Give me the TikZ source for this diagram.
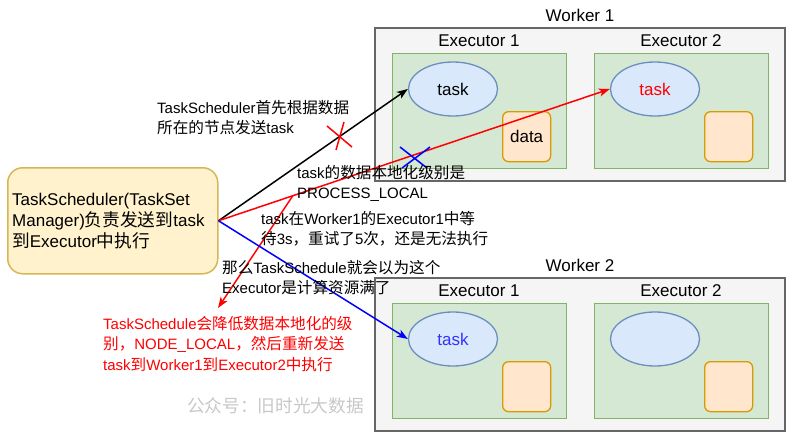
\documentclass[tikz,border=0pt]{standalone}
\usepackage{fontspec}
\setmainfont{Liberation Sans}
\newfontfamily\cjk[Scale=1.04]{Noto Sans CJK SC}
\newcommand\zhs[1]{{\cjk #1}}
\usetikzlibrary{arrows.meta,shapes.geometric}
\definecolor{wfill}{HTML}{F5F5F5}
\definecolor{wline}{HTML}{666666}
\definecolor{gfill}{HTML}{D5E8D4}
\definecolor{gline}{HTML}{82B366}
\definecolor{bfill}{HTML}{DAE8FC}
\definecolor{bline}{HTML}{6C8EBF}
\definecolor{ofill}{HTML}{FFE6CC}
\definecolor{oline}{HTML}{D79B00}
\definecolor{yfill}{HTML}{FFF2CC}
\definecolor{yline}{HTML}{D6B656}
\definecolor{wmark}{HTML}{C8C8C8}
\definecolor{tblue}{HTML}{3333FF}
\tikzset{
  workerbox/.style={draw=wline,fill=wfill,line width=1.6pt,rectangle,anchor=north west,minimum width=410pt,minimum height=153pt,inner sep=0pt},
  execbox/.style={draw=gline,fill=gfill,line width=1.3pt,rectangle,anchor=north west,minimum width=174pt,minimum height=115pt,inner sep=0pt},
  taskell/.style={draw=bline,fill=bfill,line width=1.3pt,ellipse,minimum width=89pt,minimum height=54pt,inner sep=0pt,font=\fontsize{17}{20}\selectfont},
  databox/.style={draw=oline,fill=ofill,line width=1.3pt,rectangle,rounded corners=6pt,anchor=north west,minimum width=48pt,minimum height=50pt,inner sep=0pt,font=\fontsize{17}{20}\selectfont},
  lbl/.style={font=\fontsize{17}{20}\selectfont,inner sep=0pt},
  note/.style={font=\fontsize{15}{20}\selectfont,align=left,anchor=west,inner sep=0pt},
  conn/.style={line width=1.5pt,-{Stealth[length=11pt,width=8pt,inset=3pt]}},
  cross/.style={line width=1.5pt}
}
\begin{document}
\begin{tikzpicture}[x=1pt,y=-1pt]
\useasboundingbox (0,0) rectangle (793,437);
% Worker 1
\node[workerbox] (w1) at (374,27) {};
\node[lbl] (w1l) at (580,15) {Worker 1};
\node[execbox] (x11) at (392,53) {};
\node[execbox] (x12) at (594,53) {};
\node[lbl] (x11l) at (479,41) {Executor 1};
\node[lbl] (x12l) at (681,41) {Executor 2};
\node[taskell] (e11) at (453,89) {task};
\node[taskell,text=red] (e12) at (655,89) {task};
\node[databox] (d11) at (502,111) {data};
\node[databox] (d12) at (704,111) {};
% Worker 2
\node[workerbox] (w2) at (374,277) {};
\node[lbl] (w2l) at (580,265) {Worker 2};
\node[execbox] (x21) at (392,303) {};
\node[execbox] (x22) at (594,303) {};
\node[lbl] (x21l) at (479,291) {Executor 1};
\node[lbl] (x22l) at (681,291) {Executor 2};
\node[taskell,text=tblue] (e21) at (453,339) {task};
\node[taskell] (e22) at (655,339) {};
\node[databox] (d21) at (502,361) {};
\node[databox] (d22) at (704,361) {};
% TaskScheduler
\node[draw=yline,fill=yfill,line width=1.5pt,rounded corners=15pt,anchor=north west,minimum width=210pt,minimum height=106pt,inner sep=0pt] (ts) at (7,167) {};
\node[font=\fontsize{17}{21}\selectfont,align=left,anchor=west,inner sep=0pt] (tst) at (12,221) {TaskScheduler(TaskSet\\Manager)\zhs{负责发送到}task\\\zhs{到}Executor\zhs{中执行}};
% connectors
\coordinate (rtip) at (218,308);
\draw[conn,black] (ts.east) -- (e11.west);
\draw[conn,red] (ts.east) -- (e12.west) coordinate[pos=0.19] (br);
\draw[conn,red] (br) -- (rtip);
\draw[conn,blue] (ts.east) -- (e21.west);
% crosses
\draw[cross,red] (327,126) -- (352,147) (336,150) -- (344,122);
\draw[cross,blue] (400,147) -- (427,168) (402,168) -- (430,147);
% notes
\node[note] (n1) at (157,118) {TaskScheduler\zhs{首先根据数据}\\\zhs{所在的节点发送}task};
\node[note] (n2) at (297,183.5) {task\zhs{的数据本地化级别是}\\PROCESS\_LOCAL};
\node[note] (n3) at (261,228.5) {task\zhs{在}Worker1\zhs{的}Executor1\zhs{中等}\\\zhs{待}3s\zhs{，重试了}5\zhs{次，还是无法执行}};
\node[note] (n4) at (222,277.5) {\zhs{那么}TaskSchedule\zhs{就会以为这个}\\Executor\zhs{是计算资源满了}};
\node[note,text=red,font=\fontsize{15}{20.5}\selectfont] (n5) at (103,344) {TaskSchedule\zhs{会降低数据本地化的级}\\\zhs{别，}NODE\_LOCAL\zhs{，然后重新发送}\\task\zhs{到}Worker1\zhs{到}Executor2\zhs{中执行}};
\node[anchor=west,inner sep=0pt,text=wmark,font=\fontsize{17}{20}\selectfont] (wm) at (187,406) {\zhs{公众号：旧时光大数据}};
\end{tikzpicture}
\end{document}
